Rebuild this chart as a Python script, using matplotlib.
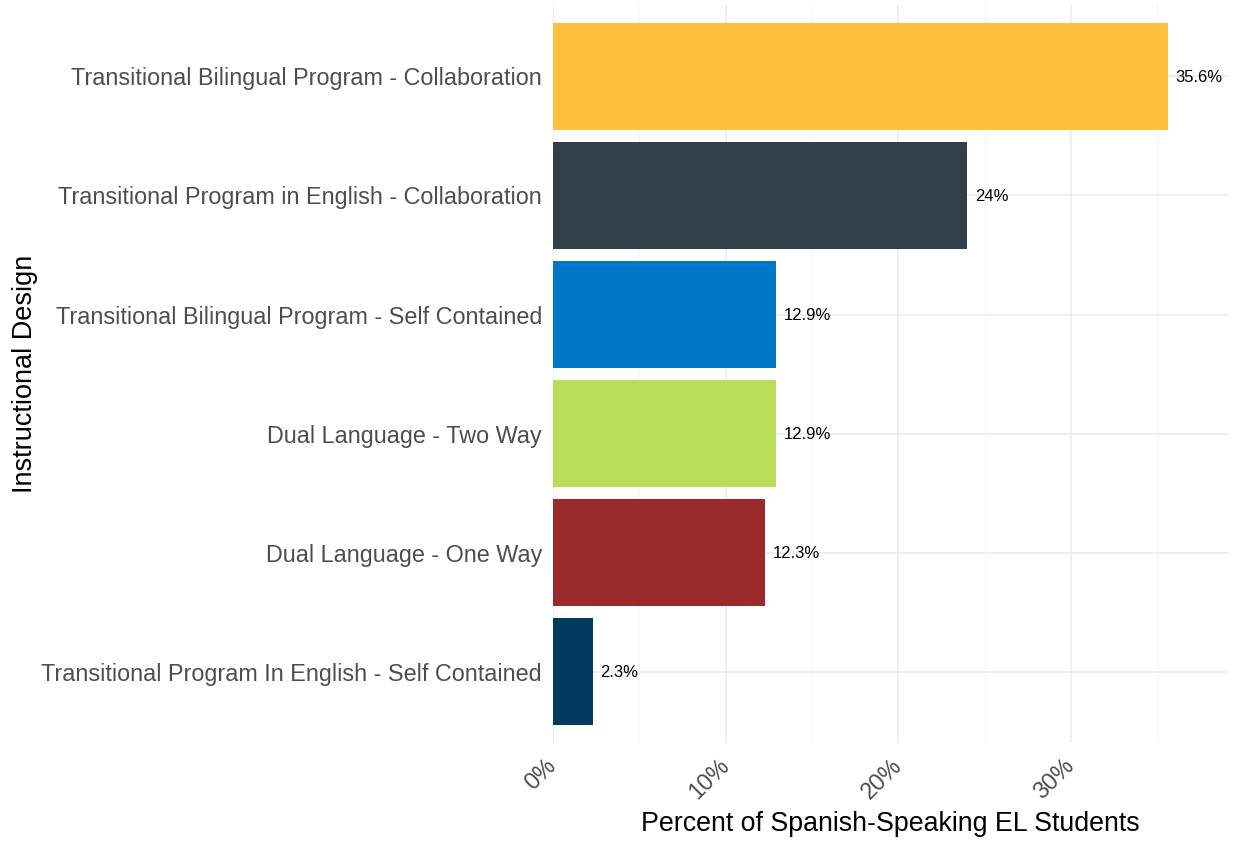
import matplotlib.pyplot as plt
from matplotlib.ticker import FixedLocator

plt.rcParams['font.family'] = ['Liberation Sans', 'DejaVu Sans']

designs = [
    "Transitional Bilingual Program - Collaboration",
    "Transitional Program in English - Collaboration",
    "Transitional Bilingual Program - Self Contained",
    "Dual Language - Two Way",
    "Dual Language - One Way",
    "Transitional Program In English - Self Contained",
]
percents = [35.6, 24.0, 12.9, 12.9, 12.3, 2.3]
value_labels = ["35.6%", "24%", "12.9%", "12.9%", "12.3%", "2.3%"]
colors = ["#FFBF3F", "#333F48", "#0077C8", "#B7DD59", "#9D2A2B", "#003A5D"]

fig = plt.figure(figsize=(12.33, 8.43), dpi=100)
ax = fig.add_axes([0.4485, 0.1186, 0.5475, 0.8754])

ypos = list(range(len(designs)))
ax.barh(ypos, percents, height=0.9, color=colors, zorder=2)
for y, v, lab in zip(ypos, percents, value_labels):
    ax.text(v + 0.45, y + 0.01, lab, va='center', ha='left', fontsize=12, color='black', zorder=3)

ax.set_ylim(len(designs) - 0.4, -0.6)
ax.set_xlim(0, 39.1)
ax.set_yticks(ypos)
ax.set_yticklabels(designs, fontsize=16.8, color='#4d4d4d')
ax.set_xticks([0, 10, 20, 30])
ax.set_xticklabels(["0%", "10%", "20%", "30%"], fontsize=16.8, color='#4d4d4d',
                   rotation=45, ha='right', va='center', rotation_mode='anchor')
ax.xaxis.set_minor_locator(FixedLocator([5, 15, 25, 35]))

ax.grid(True, which='major', color='#ebebeb', linewidth=1.1, zorder=0)
ax.grid(True, which='minor', axis='x', color='#f3f3f3', linewidth=0.6, zorder=0)
ax.set_axisbelow(True)
for s in ax.spines.values():
    s.set_visible(False)
ax.tick_params(axis='y', which='both', length=0, pad=8)
ax.tick_params(axis='x', which='both', length=0, pad=14)

ax.set_xlabel("Percent of Spanish-Speaking EL Students", fontsize=19.3, labelpad=5)
ax.set_ylabel("Instructional Design", fontsize=19.5, labelpad=2)

fig.savefig("out.png", dpi=100, facecolor='white')
